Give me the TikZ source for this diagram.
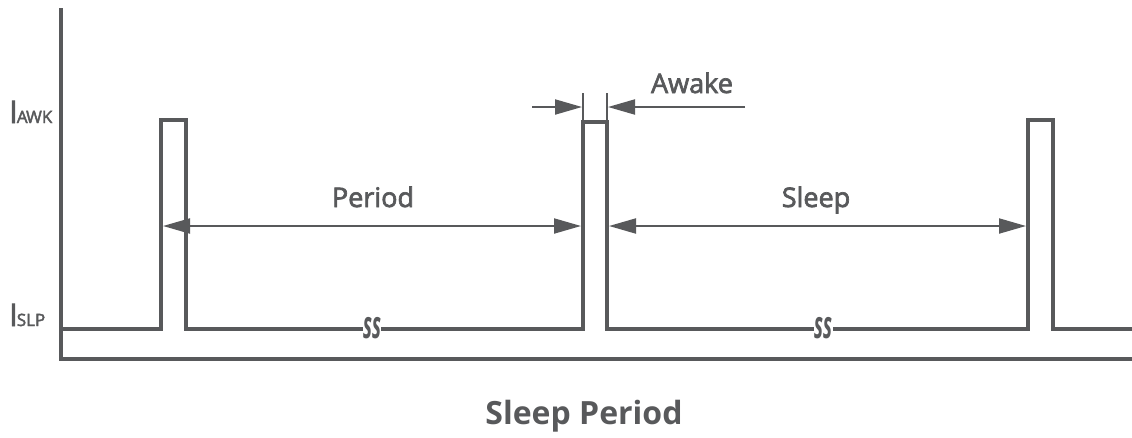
\documentclass[tikz,border=0pt]{standalone}
\usepackage{fontspec}
\setmainfont{Open Sans}
\newfontfamily\lblfont[FakeBold=2.5]{Open Sans}
\usetikzlibrary{arrows.meta}
\definecolor{linegray}{RGB}{88,89,91}
\begin{document}
\begin{tikzpicture}[x=1pt,y=-1pt]
  \tikzset{
    wave/.style={draw=linegray,line width=4pt,line join=miter},
    dimline/.style={draw=linegray,line width=2pt,-{Triangle[length=27pt,width=15pt]}},
    dimboth/.style={draw=linegray,line width=2pt,{Triangle[length=27pt,width=15pt]}-{Triangle[length=27pt,width=15pt]}},
    tick/.style={draw=linegray,line width=2pt},
    lbl/.style={text=linegray,inner sep=0pt,font=\lblfont\fontsize{27}{30}\selectfont},
    lvl/.style={text=linegray,inner sep=0pt,anchor=base west,font=\lblfont},
    brk/.style={text=linegray,fill=white,inner sep=0.5pt,font=\bfseries\itshape\fontsize{38}{38}\selectfont}
  }
  \useasboundingbox (0,0) rectangle (1132,437);
  % axes
  \coordinate (ytop) at (61,8);
  \coordinate (orig) at (61,359);
  \coordinate (xend) at (1132,359);
  \draw[wave] (ytop) -- (orig) -- (xend);
  % pulse corners
  \coordinate (s0) at (61,329);
  \coordinate (a1) at (161,329); \coordinate (b1) at (161,120);
  \coordinate (c1) at (186,120); \coordinate (d1) at (186,329);
  \coordinate (a2) at (583,329); \coordinate (b2) at (583,122);
  \coordinate (c2) at (607,122); \coordinate (d2) at (607,329);
  \coordinate (a3) at (1028,329); \coordinate (b3) at (1028,120);
  \coordinate (c3) at (1053,120); \coordinate (d3) at (1053,329);
  \coordinate (s1) at (1132,329);
  \draw[wave] (s0) -- (a1) -- (b1) -- (c1) -- (d1) -- (a2) -- (b2) -- (c2) -- (d2)
    -- (a3) -- (b3) -- (c3) -- (d3) -- (s1);
  % breaks
  \node[brk] (brk1) at (372,328) {\scalebox{0.5}[1]{ss}};
  \node[brk] (brk2) at (823,328) {\scalebox{0.5}[1]{ss}};
  % level labels
  \node[lvl] (iawk) at (9,123) {{\fontsize{31}{31}\selectfont I}\kern-1pt{\fontsize{17}{17}\selectfont A\kern-1.5pt WK}};
  \node[lvl] (islp) at (9,326) {{\fontsize{31}{31}\selectfont I}\kern-1pt{\fontsize{17}{17}\selectfont SLP}};
  % period and sleep
  \coordinate (p1) at (163,226); \coordinate (p2) at (581,226);
  \coordinate (q1) at (609,226); \coordinate (q2) at (1026,226);
  \draw[dimboth] (p1) -- (p2);
  \draw[dimboth] (q1) -- (q2);
  \node[lbl,anchor=base] (period) at (373,207) {Period};
  \node[lbl,anchor=base] (sleep) at (816,207) {Sleep};
  % awake
  \coordinate (t1) at (583,93); \coordinate (t2) at (607,93);
  \draw[tick] (t1) -- (b2);
  \draw[tick] (t2) -- (c2);
  \coordinate (w1) at (532,107); \coordinate (w2) at (745,107);
  \coordinate (e1) at (582,107); \coordinate (e2) at (608,107);
  \draw[dimline] (w1) -- (e1);
  \draw[dimline] (w2) -- (e2);
  \node[lbl,anchor=base] (awake) at (692,93) {Awake};
  % caption
  \node[text=linegray,anchor=base,font=\bfseries\fontsize{32}{36}\selectfont] (caption) at (584,424) {Sleep Period};
\end{tikzpicture}
\end{document}
